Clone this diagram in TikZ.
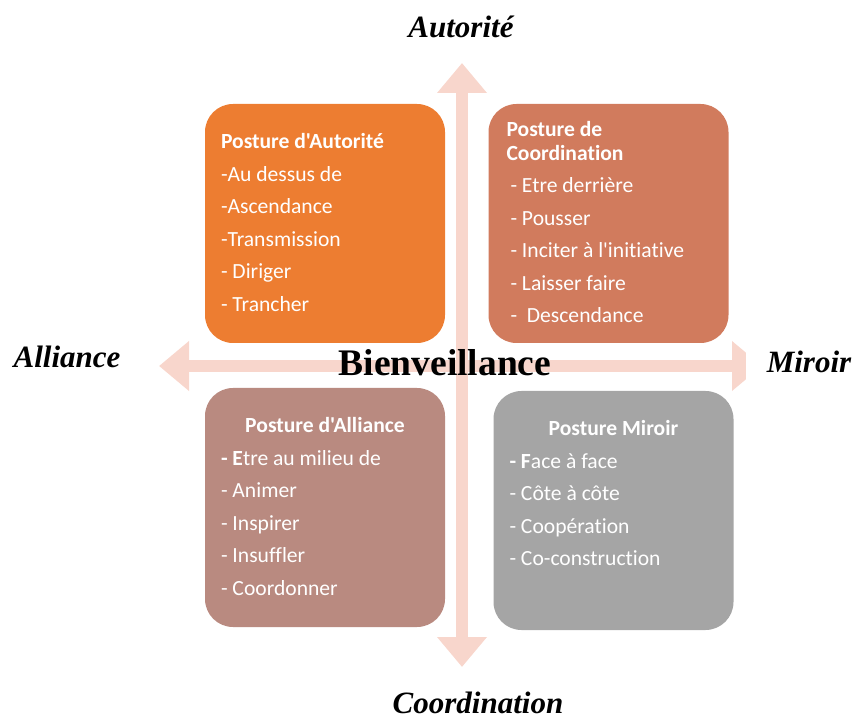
\documentclass[tikz,border=0pt]{standalone}
\usepackage{fontspec}
\setmainfont{Liberation Serif}
\newfontfamily\calibri[Ligatures=NoCommon]{Carlito}
\usetikzlibrary{arrows.meta,positioning}
\definecolor{orangeA}{RGB}{237,125,49}
\definecolor{orangeB}{RGB}{209,123,93}
\definecolor{roseC}{RGB}{185,138,128}
\definecolor{grisD}{RGB}{165,165,165}
\definecolor{rosepale}{RGB}{248,214,204}
\setlength{\parindent}{0pt}

\begin{document}
\begin{tikzpicture}[x=1pt, y=-1pt,
    post/.style = {rounded corners=28pt, minimum width=240pt, minimum height=239pt, inner xsep=16pt, inner ysep=0pt,
                   text width=208pt, align=flush left, text=white, font=\calibri\fontsize{21.6}{32.5}\selectfont,
                   execute at begin node={\spaceskip=0pt\xspaceskip=0pt\strut}, execute at end node=\strut},
    axe/.style = {font=\bfseries\itshape\fontsize{31}{36}\selectfont},
    fleche/.style = {line width=12.5pt, draw=rosepale, {Triangle[width=48pt,length=30pt]}-{Triangle[width=48pt,length=30pt]}}]
                    \useasboundingbox (0,0) rectangle (855,719);

                    \coordinate (haut) at (462,63);
                    \coordinate (bas) at (462,667);
                    \coordinate (gauche) at (159,366);
                    \coordinate (droite) at (762,366);

                    \draw[fleche] (bas) -- (haut);
                    \draw[fleche] (gauche) -- (droite);

                    \node[post, fill=orangeA] (pAutorite) at (325,223.5) {\textbf{Posture d'Autorité}\\-Au dessus de\\-Ascendance\\-Transmission\\- Diriger\\- Trancher};
                    \node[post, fill=orangeB, inner xsep=18pt, text width=204pt] (pCoordination) at (608.5,223.5) {\textbf{Posture de}\\[-9pt]\textbf{Coordination}\\\hspace*{4pt}- Etre derrière\\\hspace*{4pt}- Pousser\\\hspace*{4pt}- Inciter à l'initiative\\\hspace*{4pt}- Laisser faire\\\hspace*{4pt}-\ \ Descendance};
                    \node[post, fill=roseC] (pAlliance) at (325,507.5) {\hfill\textbf{Posture d'Alliance}\hfill\mbox{}\\\textbf{- E}tre au milieu de\\- Animer\\- Inspirer\\- Insuffler\\- Coordonner};
                    \node[post, fill=grisD] (pMiroir) at (613.5,510.5) {\hfill\textbf{Posture Miroir}\hfill\mbox{}\\\textbf{- F}ace à face\\- Côte à côte\\- Coopération\\- Co-construction\\\mbox{}};

                    \node[font=\bfseries\fontsize{37.5}{42}\selectfont] (bienveillance) at (445,363) {Bienveillance};
                    \node[axe] (autorite) at (461,27) {Autorité};
                    \node[axe] (alliance) at (67,357) {Alliance};
                    \node[axe, fill=white, inner xsep=21pt, minimum height=60pt] (miroir) at (809,362) {Miroir};
                    \node[axe] (coordination) at (478,703) {Coordination};
                \end{tikzpicture}
\end{document}
